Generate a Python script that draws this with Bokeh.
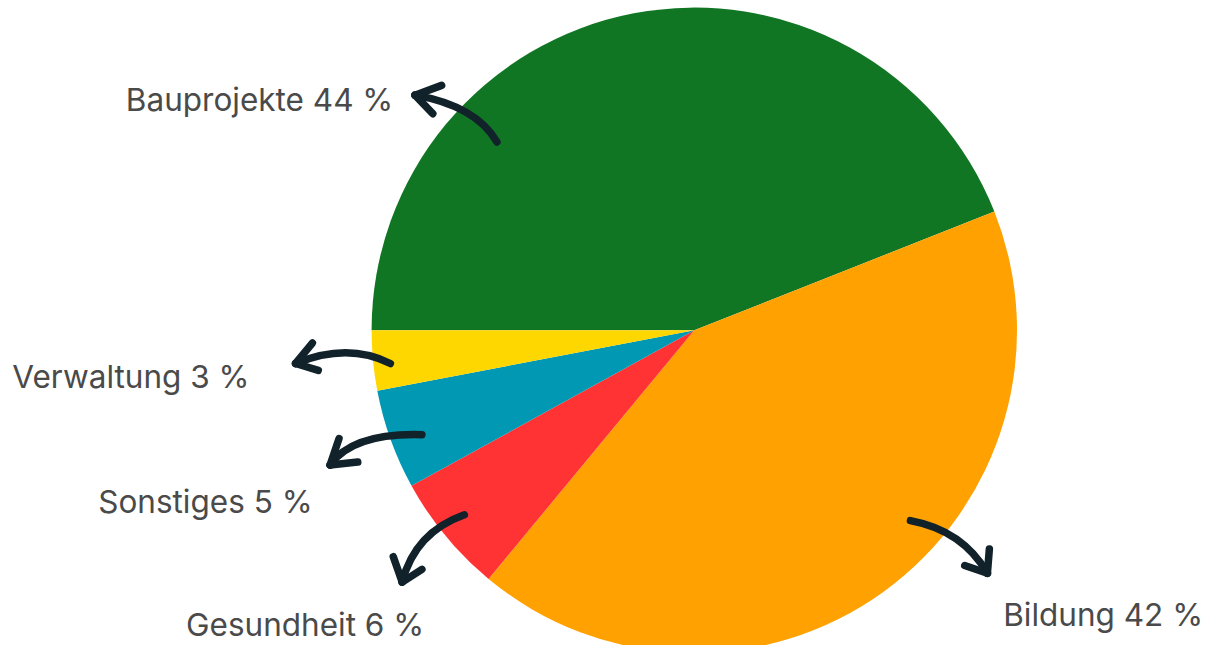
import numpy as np
from bokeh.plotting import figure
from bokeh.models import Range1d, ColumnDataSource
from bokeh.core.properties import value
from bokeh.embed import file_html
from bokeh.resources import INLINE

# ---- data ----
categories = ["Bauprojekte", "Bildung", "Gesundheit", "Sonstiges", "Verwaltung"]
shares = [44, 42, 6, 5, 3]
colors = ["#107623", "#FFA100", "#FF3333", "#0098B3", "#FFD700"]
labels = ["Bauprojekte 44 %", "Bildung 42 %", "Gesundheit 6 %", "Sonstiges 5 %", "Verwaltung 3 %"]

# ---- layout: data units are reference-image pixels (y measured from bottom) ----
W, H = 1206, 645
REF_W, REF_H = 1222, 661
cx, cy, R = 703, REF_H - 338, 327

label_x = [127, 1016, 188, 99, 12]
label_y = [REF_H - 101, REF_H - 629, REF_H - 639, REF_H - 513, REF_H - 385]

# arrows: tail, control, tip ; arrowhead arm ends (reference px, y from top)
arr_tail = [(503, 145), (922, 533), (470, 527), (427, 445), (395, 372)]
arr_ctrl = [(482, 108), (975, 543), (420, 545), (357, 443), (352, 350)]
arr_tip = [(420, 97), (1000, 587), (407, 596), (334, 476), (299, 372)]
arm_a = [(447, 87), (1002, 562), (398, 570), (343, 449), (316, 351)]
arm_b = [(438, 116), (977, 579), (427, 583), (362, 473), (322, 379)]

p = figure(width=W, height=H, output_backend="svg", toolbar_location=None,
           x_range=Range1d(0, REF_W), y_range=Range1d(0, REF_H),
           min_border=0, x_axis_location=None, y_axis_location=None)
p.outline_line_color = None
p.grid.visible = False
p.background_fill_color = "white"
p.border_fill_color = "white"

fr = np.array(shares, dtype=float) / sum(shares)
cum = np.concatenate([[0], np.cumsum(fr)])
start = np.pi - cum[:-1] * 2 * np.pi
end = np.pi - cum[1:] * 2 * np.pi
src = ColumnDataSource(dict(start=start, end=end, color=colors))
p.wedge(x=cx, y=cy, radius=R, start_angle="start", end_angle="end",
        direction="clock", fill_color="color", line_color=None, source=src)

fy = lambda v: REF_H - v
p.quadratic(x0=[t[0] for t in arr_tail], y0=[fy(t[1]) for t in arr_tail],
            x1=[t[0] for t in arr_tip], y1=[fy(t[1]) for t in arr_tip],
            cx=[t[0] for t in arr_ctrl], cy=[fy(t[1]) for t in arr_ctrl],
            line_color="#11222A", line_width=7.5, line_cap="round")
for arms in (arm_a, arm_b):
    p.segment(x0=[t[0] for t in arr_tip], y0=[fy(t[1]) for t in arr_tip],
              x1=[t[0] for t in arms], y1=[fy(t[1]) for t in arms],
              line_color="#11222A", line_width=7.5, line_cap="round")

p.text(x=label_x, y=label_y, text=labels, text_font=value("Inter"),
       text_font_size=value("31.5px"), text_color="#4a4a4a",
       text_align="left", text_baseline="alphabetic")

open("out.html", "w").write(file_html(p, INLINE))
